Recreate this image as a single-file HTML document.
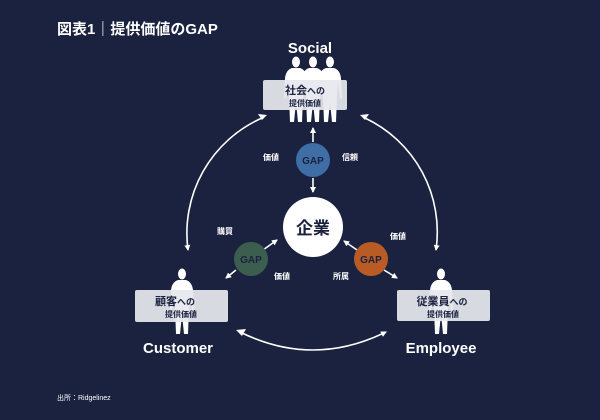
<!DOCTYPE html>
<html><head><meta charset="utf-8"><style>
html,body{margin:0;padding:0}
body{width:600px;height:415px;background:#1b2240;overflow:hidden;font-family:"Liberation Sans","Noto Sans CJK JP",sans-serif}
</style></head><body>
<svg width="600" height="415" viewBox="0 0 600 415" xmlns="http://www.w3.org/2000/svg" style="font-family:'Liberation Sans','Noto Sans CJK JP',sans-serif">
<defs>
<marker id="a" markerWidth="6" markerHeight="6" refX="5" refY="3" orient="auto" markerUnits="userSpaceOnUse"><path d="M0,0 L6,3 L0,6 z" fill="#fff"/></marker>
<g id="p" fill="#fff">
<ellipse cx="0" cy="-24" rx="4" ry="5.5"/>
<path d="M-4,-18 L4,-18 Q10,-16 11,-8 L12,12 L10,13 L8,-4 L7,10 L6,36 L2,36 L0,16 L-2,36 L-6,36 L-7,10 L-8,-4 L-10,13 L-12,12 L-11,-8 Q-10,-16 -4,-18z"/>
</g>
</defs>
<text x="57" y="34" fill="#fff" font-size="15" font-weight="bold">図表1｜提供価値のGAP</text>
<text x="310" y="53" fill="#fff" font-size="15" font-weight="bold" text-anchor="middle">Social</text>
<g fill="none" stroke="#fff" stroke-width="1.6">
<path d="M262,118 A126,126 0 0 0 188,250" marker-end="url(#a)"/>
<path d="M365,118 A126,126 0 0 1 436,250" marker-end="url(#a)"/>
<path d="M240,332 Q313,368 386,332" marker-end="url(#a)"/>
</g>
<g fill="#fff"><path d="M258,114 l9,1 -5,5z"/><path d="M369,114 l-9,1 5,5z"/><path d="M236,330 l10,-1 -4,7z"/></g>
<use href="#p" x="296" y="86"/>
<use href="#p" x="330" y="86"/>
<use href="#p" x="313" y="86"/>
<rect x="263" y="80" width="84" height="30" rx="2" fill="#e6e8ee" opacity="0.93"/>
<text x="305" y="94" font-size="11" font-weight="bold" fill="#1b2240" text-anchor="middle">社会<tspan font-size="9">への</tspan></text>
<text x="305" y="106" font-size="8" font-weight="bold" fill="#1b2240" text-anchor="middle">提供価値</text>
<use href="#p" x="182" y="298"/>
<rect x="135" y="290" width="93" height="32" rx="2" fill="#e6e8ee" opacity="0.93"/>
<text x="175" y="305" font-size="11" font-weight="bold" fill="#1b2240" text-anchor="middle">顧客<tspan font-size="9">への</tspan></text>
<text x="181" y="317" font-size="8" font-weight="bold" fill="#1b2240" text-anchor="middle">提供価値</text>
<text x="178" y="353" fill="#fff" font-size="15" font-weight="bold" text-anchor="middle">Customer</text>
<use href="#p" x="441" y="298"/>
<rect x="397" y="290" width="93" height="31" rx="2" fill="#e6e8ee" opacity="0.93"/>
<text x="442" y="305" font-size="11" font-weight="bold" fill="#1b2240" text-anchor="middle">従業員<tspan font-size="9">への</tspan></text>
<text x="443" y="317" font-size="8" font-weight="bold" fill="#1b2240" text-anchor="middle">提供価値</text>
<text x="441" y="353" fill="#fff" font-size="15" font-weight="bold" text-anchor="middle">Employee</text>
<circle cx="313" cy="227" r="30" fill="#fff"/>
<text x="313" y="234" font-size="17" font-weight="bold" fill="#1b2240" text-anchor="middle">企業</text>
<g stroke="#fff" stroke-width="1.6" marker-end="url(#a)">
<line x1="313" y1="142" x2="313" y2="128"/>
<line x1="313" y1="178" x2="313" y2="192"/>
<line x1="263" y1="250" x2="277" y2="240"/>
<line x1="236" y1="270" x2="226" y2="278"/>
<line x1="357" y1="250" x2="344" y2="241"/>
<line x1="384" y1="270" x2="397" y2="278"/>
</g>
<circle cx="313" cy="160" r="17" fill="#3e6ea5"/>
<text x="313" y="164" font-size="10" font-weight="bold" fill="#1b2240" text-anchor="middle">GAP</text>
<circle cx="251" cy="259" r="17" fill="#3c5e4e"/>
<text x="251" y="263" font-size="10" font-weight="bold" fill="#1b2240" text-anchor="middle">GAP</text>
<circle cx="371" cy="259" r="17" fill="#b85b24"/>
<text x="371" y="263" font-size="10" font-weight="bold" fill="#1b2240" text-anchor="middle">GAP</text>
<g fill="#fff" font-size="8" font-weight="bold" text-anchor="middle">
<text x="271" y="160">価値</text>
<text x="350" y="160">信頼</text>
<text x="225" y="234">購買</text>
<text x="282" y="279">価値</text>
<text x="398" y="239">価値</text>
<text x="341" y="279">所属</text>
</g>
<text x="57" y="400" fill="#fff" font-size="7">出所：Ridgelinez</text>
</svg>
</body></html>
